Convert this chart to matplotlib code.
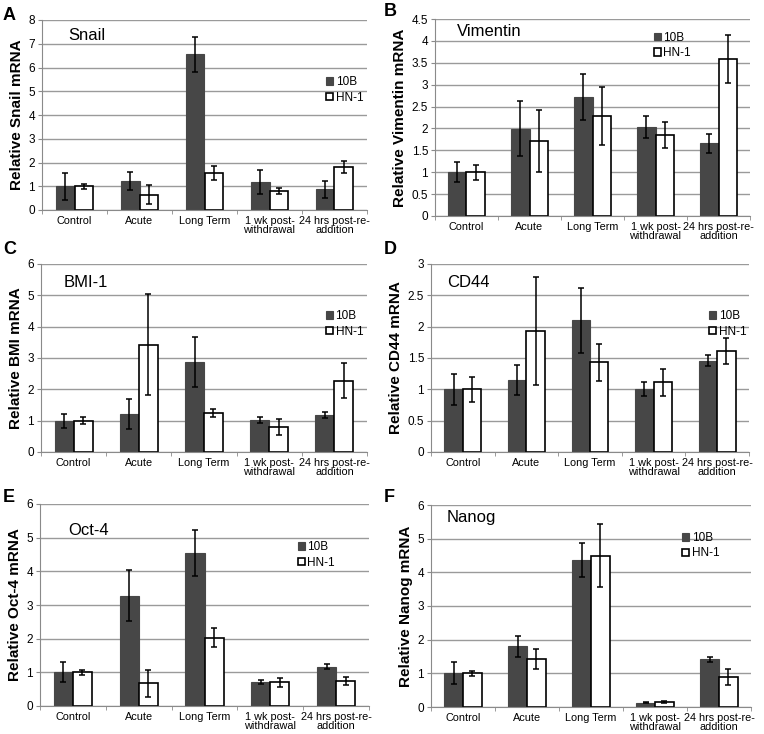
import matplotlib
matplotlib.use('Agg')
import matplotlib.pyplot as plt
from matplotlib.ticker import MultipleLocator, FixedLocator, NullFormatter
import numpy as np

plt.rcParams['font.family'] = ['Liberation Sans', 'DejaVu Sans']

categories = ['Control', 'Acute', 'Long Term', '1 wk post-\nwithdrawal', '24 hrs post-re-\naddition']
series_names = ['10B', 'HN-1']

# Snail
snail_10b = [1.0, 1.22, 6.55, 1.18, 0.87]
snail_10b_err = [0.57, 0.38, 0.72, 0.5, 0.37]
snail_hn1 = [1.0, 0.65, 1.55, 0.8, 1.82]
snail_hn1_err = [0.1, 0.4, 0.3, 0.13, 0.26]

# Vimentin
vim_10b = [1.0, 1.99, 2.72, 2.03, 1.66]
vim_10b_err = [0.23, 0.63, 0.53, 0.25, 0.22]
vim_hn1 = [1.0, 1.71, 2.28, 1.85, 3.58]
vim_hn1_err = [0.17, 0.7, 0.66, 0.3, 0.55]

# BMI-1
bmi_10b = [1.0, 1.22, 2.86, 1.03, 1.17]
bmi_10b_err = [0.22, 0.47, 0.8, 0.1, 0.1]
bmi_hn1 = [1.0, 3.43, 1.25, 0.8, 2.27]
bmi_hn1_err = [0.12, 1.6, 0.12, 0.25, 0.56]

# CD44
cd44_10b = [1.0, 1.15, 2.1, 1.0, 1.46]
cd44_10b_err = [0.25, 0.24, 0.52, 0.11, 0.09]
cd44_hn1 = [1.0, 1.93, 1.43, 1.11, 1.61]
cd44_hn1_err = [0.2, 0.86, 0.3, 0.21, 0.21]

# Oct-4
oct4_10b = [1.0, 3.28, 4.55, 0.72, 1.17]
oct4_10b_err = [0.3, 0.75, 0.68, 0.06, 0.07]
oct4_hn1 = [1.0, 0.67, 2.03, 0.7, 0.74]
oct4_hn1_err = [0.07, 0.4, 0.28, 0.14, 0.12]

# Nanog
nanog_10b = [1.0, 1.8, 4.37, 0.13, 1.42]
nanog_10b_err = [0.33, 0.3, 0.5, 0.02, 0.08]
nanog_hn1 = [1.0, 1.42, 4.5, 0.15, 0.9]
nanog_hn1_err = [0.08, 0.3, 0.95, 0.02, 0.24]

W, H = 764, 734
fig = plt.figure(figsize=(W / 100, H / 100), dpi=100)


def px_axes(left, top, right, bottom):
    return fig.add_axes([left / W, 1 - bottom / H, (right - left) / W, (bottom - top) / H])


def draw_panel(ax, letter, gene, ylabel, v1, e1, v2, e2, ymax, ystep,
               gene_pos, leg_pos, letter_pos):
    x = np.arange(len(categories))
    bw = 0.29
    ax.bar(x - bw / 2, v1, bw, color='#474747', edgecolor='#474747', linewidth=0.8,
           label=series_names[0], zorder=2)
    ax.bar(x + bw / 2, v2, bw, color='white', edgecolor='black', linewidth=1.2,
           label=series_names[1], zorder=2)
    ax.errorbar(x - bw / 2, v1, yerr=e1, fmt='none', ecolor='black', elinewidth=1.1,
                capsize=2, capthick=1.1, zorder=3)
    ax.errorbar(x + bw / 2, v2, yerr=e2, fmt='none', ecolor='black', elinewidth=1.1,
                capsize=2, capthick=1.1, zorder=3)
    ax.set_xlim(-0.5, len(categories) - 0.5)
    ax.set_ylim(0, ymax)
    ax.yaxis.set_major_locator(MultipleLocator(ystep))
    ax.yaxis.set_major_formatter(plt.FuncFormatter(lambda v, p: f'{v:g}'))
    ax.grid(axis='y', color='#9a9a9a', linewidth=1.0, zorder=0)
    ax.set_axisbelow(True)
    for s in ['top', 'right']:
        ax.spines[s].set_visible(False)
    for s in ['left', 'bottom']:
        ax.spines[s].set_color('#8a8a8a')
    ax.set_xticks(x)
    ax.set_xticklabels(categories, fontsize=7.8, linespacing=0.9)
    ax.tick_params(axis='x', which='major', length=0, pad=4)
    ax.xaxis.set_minor_locator(FixedLocator(np.arange(-0.5, len(categories), 1.0)))
    ax.xaxis.set_minor_formatter(NullFormatter())
    ax.tick_params(axis='x', which='minor', length=3, color='#8a8a8a')
    ax.tick_params(axis='y', length=3, color='#8a8a8a', labelsize=8.5, pad=2)
    ax.set_ylabel(ylabel, fontsize=11, fontweight='bold', labelpad=3)
    ax.text(gene_pos[0], gene_pos[1], gene, transform=ax.transAxes, fontsize=12,
            va='center', ha='left')
    ax.legend(loc='upper left', bbox_to_anchor=leg_pos, frameon=False, fontsize=8.5,
              handlelength=0.6, handleheight=0.6, handletextpad=0.2, labelspacing=0.3,
              borderaxespad=0)
    fig.text(letter_pos[0] / W, 1 - letter_pos[1] / H, letter, fontsize=13,
             fontweight='bold', va='center', ha='left')


axA = px_axes(42, 20, 367, 210)
draw_panel(axA, 'A', 'Snail', 'Relative Snail mRNA', snail_10b, snail_10b_err,
           snail_hn1, snail_hn1_err, 8, 1, (0.08, 0.92), (0.86, 0.73), (3, 15))

axB = px_axes(435, 19, 750, 216)
draw_panel(axB, 'B', 'Vimentin', 'Relative Vimentin mRNA', vim_10b, vim_10b_err,
           vim_hn1, vim_hn1_err, 4.5, 0.5, (0.07, 0.935), (0.68, 0.96), (384, 12))

axC = px_axes(41, 264, 367, 452)
draw_panel(axC, 'C', 'BMI-1', 'Relative BMI mRNA', bmi_10b, bmi_10b_err,
           bmi_hn1, bmi_hn1_err, 6, 1, (0.07, 0.9), (0.86, 0.78), (3, 250))

axD = px_axes(431, 264, 749, 452)
draw_panel(axD, 'D', 'CD44', 'Relative CD44 mRNA', cd44_10b, cd44_10b_err,
           cd44_hn1, cd44_hn1_err, 3, 0.5, (0.05, 0.9), (0.86, 0.78), (384, 250))

axE = px_axes(40, 504, 369, 706)
draw_panel(axE, 'E', 'Oct-4', 'Relative Oct-4 mRNA', oct4_10b, oct4_10b_err,
           oct4_hn1, oct4_hn1_err, 6, 1, (0.085, 0.87), (0.77, 0.84), (3, 497))

axF = px_axes(431, 505, 751, 707)
draw_panel(axF, 'F', 'Nanog', 'Relative Nanog mRNA', nanog_10b, nanog_10b_err,
           nanog_hn1, nanog_hn1_err, 6, 1, (0.05, 0.94), (0.77, 0.89), (384, 497))

fig.savefig('out.png', dpi=100, facecolor='white')
